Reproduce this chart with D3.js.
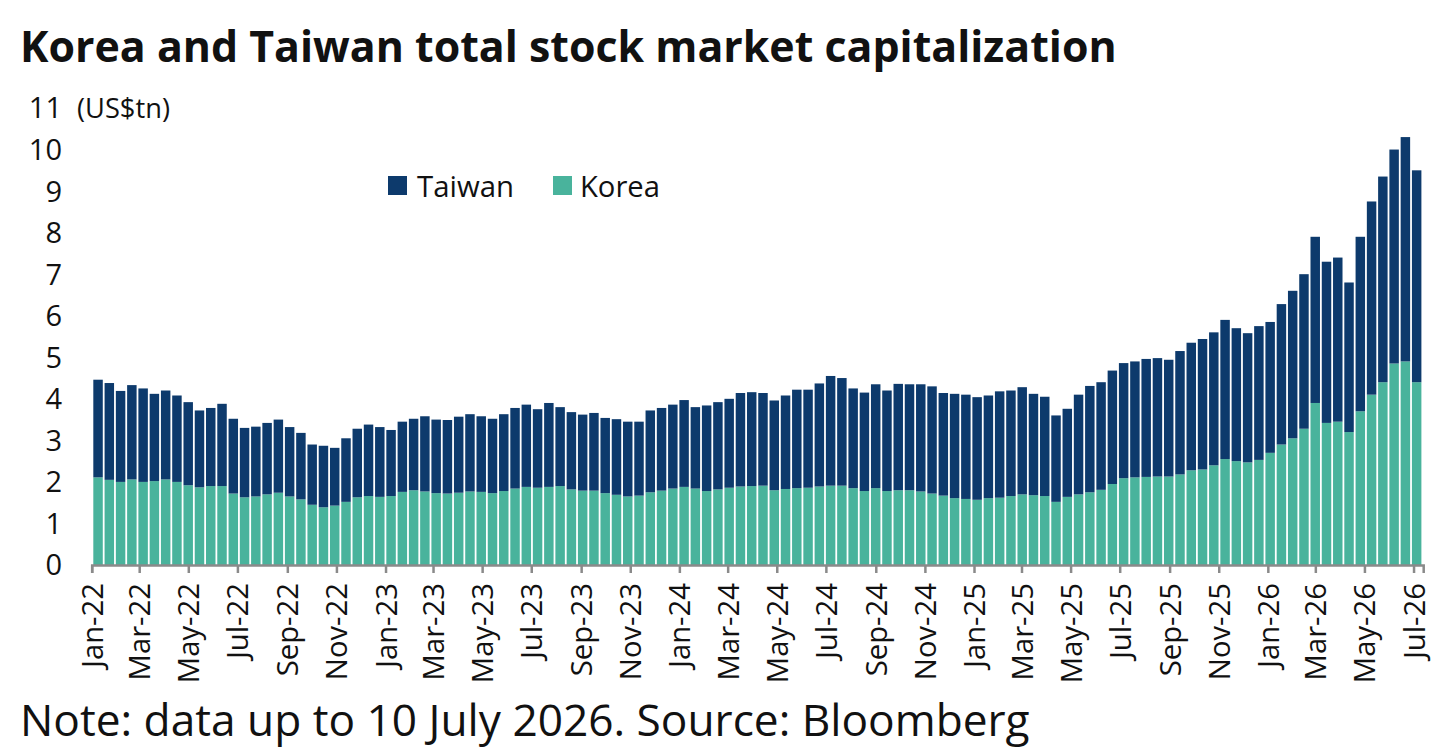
<!DOCTYPE html>
<html>
<head>
<meta charset="utf-8">
<script src="https://cdn.jsdelivr.net/npm/d3@7"></script>
<style>
  body { margin: 0; background: #fff; }
  svg { display: block; }
  text { font-family: "Open Sans", "Noto Sans", sans-serif; fill: #111; }
</style>
</head>
<body>
<svg id="chart" width="1436" height="755"></svg>
<script>
// fortnightly readings, first period starts Mon 3 Jan 2022, last one ends 10 Jul 2026
var firstPeriod = "2022-01-03";
var periodDays = 14;

// Korea market cap (US$tn)
var korea = [
  2.11, 2.05, 2.00, 2.06, 2.00, 2.02, 2.06, 2.00, 1.92, 1.87,
  1.90, 1.90, 1.72, 1.63, 1.65, 1.70, 1.74, 1.65, 1.58, 1.45,
  1.39, 1.43, 1.52, 1.63, 1.66, 1.64, 1.66, 1.76, 1.80, 1.77,
  1.73, 1.72, 1.74, 1.77, 1.76, 1.73, 1.78, 1.84, 1.88, 1.86,
  1.88, 1.90, 1.82, 1.79, 1.79, 1.73, 1.69, 1.65, 1.67, 1.75,
  1.79, 1.84, 1.88, 1.84, 1.78, 1.82, 1.86, 1.89, 1.90, 1.91,
  1.80, 1.83, 1.85, 1.86, 1.89, 1.91, 1.91, 1.85, 1.78, 1.85,
  1.78, 1.80, 1.80, 1.77, 1.72, 1.67, 1.61, 1.59, 1.57, 1.61,
  1.62, 1.66, 1.70, 1.68, 1.66, 1.52, 1.64, 1.70, 1.75, 1.81,
  1.95, 2.09, 2.11, 2.12, 2.13, 2.13, 2.18, 2.28, 2.30, 2.40,
  2.55, 2.50, 2.47, 2.53, 2.70, 2.90, 3.05, 3.28, 3.90, 3.42,
  3.45, 3.20, 3.70, 4.10, 4.40, 4.85, 4.90, 4.40
];

// Taiwan market cap (US$tn)
var taiwan = [
  2.35, 2.33, 2.19, 2.27, 2.25, 2.10, 2.14, 2.08, 2.00, 1.85,
  1.88, 1.98, 1.80, 1.67, 1.68, 1.72, 1.76, 1.67, 1.60, 1.45,
  1.48, 1.39, 1.53, 1.65, 1.72, 1.68, 1.59, 1.69, 1.72, 1.81,
  1.77, 1.77, 1.83, 1.86, 1.82, 1.79, 1.85, 1.94, 1.98, 1.89,
  2.02, 1.90, 1.86, 1.83, 1.87, 1.81, 1.82, 1.80, 1.78, 1.97,
  1.99, 2.02, 2.09, 1.96, 2.06, 2.10, 2.14, 2.25, 2.26, 2.23,
  2.16, 2.25, 2.37, 2.36, 2.48, 2.64, 2.59, 2.40, 2.37, 2.50,
  2.42, 2.56, 2.55, 2.58, 2.58, 2.47, 2.51, 2.51, 2.47, 2.47,
  2.56, 2.54, 2.58, 2.44, 2.39, 2.08, 2.12, 2.40, 2.56, 2.59,
  2.73, 2.77, 2.79, 2.84, 2.85, 2.81, 2.97, 3.07, 3.14, 3.20,
  3.35, 3.20, 3.11, 3.22, 3.15, 3.38, 3.55, 3.72, 4.00, 3.88,
  3.95, 3.60, 4.20, 4.65, 4.95, 5.15, 5.40, 5.10
];

var seriesNames = ["Korea", "Taiwan"];
var seriesColors = {Korea: "#49b39c", Taiwan: "#0d3a6c"};
var yTicks = [0, 1, 2, 3, 4, 5, 6, 7, 8, 9, 10, 11];

var titleText = "Korea and Taiwan total stock market capitalization";
var noteText = "Note: data up to 10 July 2026. Source: Bloomberg";
var unitText = "(US$tn)";

var svg = d3.select("#chart");
var parse = d3.timeParse("%Y-%m-%d");
var start = parse(firstPeriod);

var rows = korea.map(function (k, i) {
    var d0 = d3.timeDay.offset(start, i * periodDays);
    return {date: d0, end: d3.timeDay.offset(d0, periodDays), Korea: k, Taiwan: taiwan[i]};
});

var x = d3.scaleTime()
    .domain([parse("2022-01-01"), parse("2026-07-13")])
    .range([91.7, 1423.2]);
var y = d3.scaleLinear().domain([0, 11]).range([565, 108]);

// shrink / grow a text so it spans a given width
function fitWidth(sel, target) {
    var w = sel.node().getComputedTextLength();
    var fs = parseFloat(sel.attr("font-size"));
    sel.attr("font-size", fs * target / w);
}

var stacked = d3.stack().keys(seriesNames)(rows);
var gap = 1.8;

svg.append("g")
    .selectAll("g")
    .data(stacked)
    .join("g")
    .attr("fill", function (s) { return seriesColors[s.key]; })
    .selectAll("rect")
    .data(function (s) { return s; })
    .join("rect")
    .attr("x", function (d) { return x(d.data.date); })
    .attr("width", function (d) { return x(d.data.end) - x(d.data.date) - gap; })
    .attr("y", function (d) { return y(d[1]); })
    .attr("height", function (d) { return y(d[0]) - y(d[1]); });

// x axis
var xAxis = svg.append("g")
    .attr("transform", "translate(0," + y(0) + ")")
    .call(d3.axisBottom(x)
        .ticks(d3.timeMonth.every(2))
        .tickFormat(d3.timeFormat("%b-%y"))
        .tickSizeOuter(0)
        .tickSize(8));
xAxis.select(".domain").attr("stroke", "#8a8a8a").attr("stroke-width", 2.5);
xAxis.selectAll(".tick line").attr("stroke", "#8a8a8a").attr("stroke-width", 2.5);
var xLabels = xAxis.selectAll(".tick text")
    .attr("font-size", 26)
    .attr("font-family", "'Open Sans', sans-serif")
    .attr("fill", "#111")
    .attr("transform", "rotate(-90)")
    .attr("text-anchor", "end")
    .attr("x", -18)
    .attr("y", 0)
    .attr("dy", "0.36em");
var lw = xLabels.node().getComputedTextLength();
xLabels.attr("font-size", 26 * 85 / lw);

// y labels (no axis line in the original)
svg.append("g")
    .selectAll("text")
    .data(yTicks)
    .join("text")
    .attr("x", 62)
    .attr("y", function (d) { return y(d); })
    .attr("dy", "0.36em")
    .attr("text-anchor", "end")
    .attr("font-size", 29)
    .text(function (d) { return d; });

var unit = svg.append("text")
    .attr("x", 77)
    .attr("y", y(11))
    .attr("dy", "0.36em")
    .attr("font-size", 24)
    .text(unitText);
fitWidth(unit, 93);

// legend
var legendItems = [
    {name: "Taiwan", sx: 388, tx: 417, w: 97},
    {name: "Korea", sx: 553, tx: 580, w: 80}
];
var lg = svg.append("g");
legendItems.forEach(function (it) {
    lg.append("rect")
        .attr("x", it.sx).attr("y", 176)
        .attr("width", 19).attr("height", 19)
        .attr("fill", seriesColors[it.name]);
    var t = lg.append("text")
        .attr("x", it.tx).attr("y", 186)
        .attr("dy", "0.36em")
        .attr("font-size", 28)
        .text(it.name);
    fitWidth(t, it.w);
});

var title = svg.append("text")
    .attr("x", 20).attr("y", 62)
    .attr("font-size", 38)
    .attr("font-weight", 700)
    .text(titleText);
fitWidth(title, 1097);

var note = svg.append("text")
    .attr("x", 20).attr("y", 736)
    .attr("font-size", 40)
    .text(noteText);
fitWidth(note, 1010);
</script>
</body>
</html>
